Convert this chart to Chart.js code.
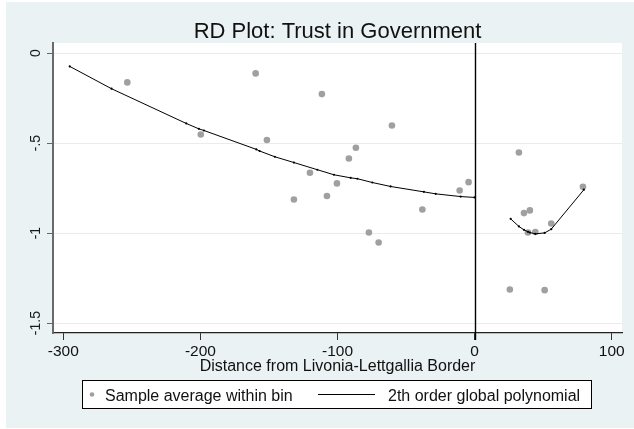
<!DOCTYPE html>
<html>
<head>
<meta charset="utf-8">
<title>RD Plot: Trust in Government</title>
<script src="https://cdn.jsdelivr.net/npm/chart.js@4/dist/chart.umd.min.js"></script>
<style>
  html, body { margin: 0; padding: 0; background: #ffffff; }
  #wrap { width: 634px; height: 429px; }
</style>
</head>
<body>
<div id="wrap"><canvas id="rd" width="634" height="429"></canvas></div>
<script>
// Bin averages: distance from the border (km) and mean trust in government
const binX = [-253.3, -199.7, -159.7, -151.5, -131.8, -120.1, -111.4, -107.7, -100.4, -91.7, -86.6,
              -77.1, -70.0, -60.3, -38.1, -10.9, -4.4,
              25.7, 32.3, 36.0, 38.9, 40.3, 44.3, 51.1, 55.9, 79.0];
const binY = [-0.163, -0.452, -0.113, -0.483, -0.813, -0.665, -0.228, -0.794, -0.724, -0.586, -0.526,
              -0.997, -1.052, -0.402, -0.869, -0.763, -0.717,
              -1.313, -0.552, -0.889, -0.997, -0.874, -0.994, -1.317, -0.947, -0.743];

// Fitted 2nd order global polynomial, left of the cutoff
const polyLeftX = [-295.3, -264.8, -210.3, -201.1, -197.4, -159.2, -156.8, -145.7, -131.8, -114.7,
                   -102.6, -90.4, -85.5, -74.6, -61.3, -37.0, -28.4, -10.2, 0];
const polyLeftY = [-0.074, -0.198, -0.391, -0.421, -0.430, -0.535, -0.544, -0.576, -0.608, -0.648,
                   -0.676, -0.693, -0.698, -0.719, -0.741, -0.771, -0.782, -0.797, -0.802];

// Fitted 2nd order global polynomial, right of the cutoff
const polyRightX = [26.3, 32.3, 36.0, 38.9, 40.3, 44.3, 51.1, 55.9, 79.7];
const polyRightY = [-0.921, -0.963, -0.982, -0.993, -0.997, -1.004, -0.999, -0.978, -0.759];

const cutoff = 0;

const xTickValues = [-300, -200, -100, 0, 100];
const yTickValues = [0, -0.5, -1, -1.5];
const yTickLabels = ['0', '-.5', '-1', '-1.5'];

const titleText = 'RD Plot: Trust in Government';
const xTitleText = 'Distance from Livonia-Lettgallia Border';
const binLabel = 'Sample average within bin';
const polyLabel = '2th order global polynomial';

const FONT = "'Liberation Sans', Arial, Helvetica, sans-serif";
const BG = '#eaf2f3';
const DOT = '#a0a0a0';

const toPoints = (xs, ys) => xs.map((x, i) => ({ x: x, y: ys[i] }));

// Backgrounds, title, cutoff line, rotated y labels and the boxed legend
const stataLook = {
  id: 'stataLook',
  beforeDraw(chart) {
    const { ctx, chartArea: a } = chart;
    ctx.save();
    ctx.fillStyle = '#ffffff';
    ctx.fillRect(0, 0, chart.width, chart.height);
    ctx.fillStyle = BG;
    ctx.fillRect(6, 2, chart.width - 6, chart.height - 3);
    ctx.fillStyle = '#ffffff';
    ctx.fillRect(a.left, a.top, a.right - a.left, a.bottom - a.top);

    // title centred over the plot region
    ctx.fillStyle = '#111111';
    ctx.font = '22px ' + FONT;
    ctx.textAlign = 'center';
    ctx.textBaseline = 'alphabetic';
    ctx.fillText(titleText, (a.left + a.right) / 2, 38);
    ctx.restore();
  },
  beforeDatasetsDraw(chart) {
    const { ctx, chartArea: a, scales } = chart;
    const px = Math.round(scales.x.getPixelForValue(cutoff)) + 0.5;
    ctx.save();
    ctx.strokeStyle = '#000000';
    ctx.lineWidth = 1.4;
    ctx.beginPath();
    ctx.moveTo(px, a.top);
    ctx.lineTo(px, a.bottom + 7);
    ctx.stroke();
    ctx.restore();
  },
  afterDraw(chart) {
    const { ctx, scales } = chart;
    const y = scales.y;
    ctx.save();
    ctx.fillStyle = '#1a1a1a';
    ctx.font = '14px ' + FONT;
    ctx.textAlign = 'center';
    ctx.textBaseline = 'alphabetic';
    yTickValues.forEach((v, i) => {
      const py = y.getPixelForValue(v);
      ctx.save();
      ctx.translate(40, py);
      ctx.rotate(-Math.PI / 2);
      ctx.fillText(yTickLabels[i], 0, 0);
      ctx.restore();
    });

    // legend box
    const ds = chart.data.datasets;
    const lx = 82.5, ly = 380.5, lw = 509, lh = 28;
    const mid = ly + lh / 2;
    ctx.fillStyle = '#ffffff';
    ctx.fillRect(lx, ly, lw, lh);
    ctx.strokeStyle = '#000000';
    ctx.lineWidth = 1;
    ctx.strokeRect(lx, ly, lw, lh);

    ctx.fillStyle = ds[0].backgroundColor;
    ctx.beginPath();
    ctx.arc(92, mid, 2.3, 0, Math.PI * 2);
    ctx.fill();

    ctx.strokeStyle = ds[1].borderColor;
    ctx.lineWidth = 1;
    ctx.beginPath();
    ctx.moveTo(318, mid);
    ctx.lineTo(375, mid);
    ctx.stroke();

    ctx.fillStyle = '#111111';
    ctx.font = '16px ' + FONT;
    ctx.textAlign = 'left';
    ctx.fillText(ds[0].label, 105, 401);
    ctx.fillText(ds[1].label, 388, 401);
    ctx.restore();
  }
};

new Chart(document.getElementById('rd'), {
  type: 'scatter',
  data: {
    datasets: [
      {
        label: binLabel,
        data: toPoints(binX, binY),
        backgroundColor: DOT,
        borderWidth: 0,
        pointRadius: 3.3,
        order: 2
      },
      {
        label: polyLabel,
        data: toPoints(polyLeftX, polyLeftY),
        showLine: true,
        borderColor: '#000000',
        backgroundColor: '#000000',
        borderWidth: 1,
        pointRadius: 1.1,
        pointBorderWidth: 0,
        tension: 0,
        order: 1
      },
      {
        label: polyLabel,
        data: toPoints(polyRightX, polyRightY),
        showLine: true,
        borderColor: '#000000',
        backgroundColor: '#000000',
        borderWidth: 1,
        pointRadius: 1.1,
        pointBorderWidth: 0,
        tension: 0,
        order: 1
      }
    ]
  },
  options: {
    responsive: false,
    animation: false,
    devicePixelRatio: 1,
    layout: { padding: { left: 0, right: 12, top: 43, bottom: 51 } },
    plugins: {
      legend: { display: false },
      tooltip: { enabled: false },
      title: { display: false }
    },
    scales: {
      x: {
        type: 'linear',
        min: -307.5,
        max: 107.5,
        afterBuildTicks(scale) { scale.ticks = xTickValues.map(v => ({ value: v })); },
        afterFit(scale) { scale.height = 45; },
        grid: { drawOnChartArea: false, drawTicks: true, tickLength: 7, tickColor: '#333333', tickWidth: 1 },
        border: { display: true, color: '#222222', width: 1.2 },
        ticks: {
          color: '#111111',
          font: { family: FONT, size: 15.5 },
          padding: 2,
          maxRotation: 0,
          autoSkip: false,
          callback: v => String(v)
        },
        title: {
          display: true,
          text: xTitleText,
          color: '#111111',
          font: { family: FONT, size: 16 },
          padding: { top: 0, bottom: 2 }
        }
      },
      y: {
        type: 'linear',
        min: -1.555,
        max: 0.056,
        afterBuildTicks(scale) { scale.ticks = yTickValues.map(v => ({ value: v })); },
        afterFit(scale) { scale.width = 53; },
        grid: { color: '#e4eef0', lineWidth: 1, drawTicks: true, tickLength: 6, tickColor: '#666666', tickWidth: 1 },
        border: { display: true, color: '#6a6a6a', width: 2 },
        ticks: { display: false }
      }
    }
  },
  plugins: [stataLook]
});
</script>
</body>
</html>
